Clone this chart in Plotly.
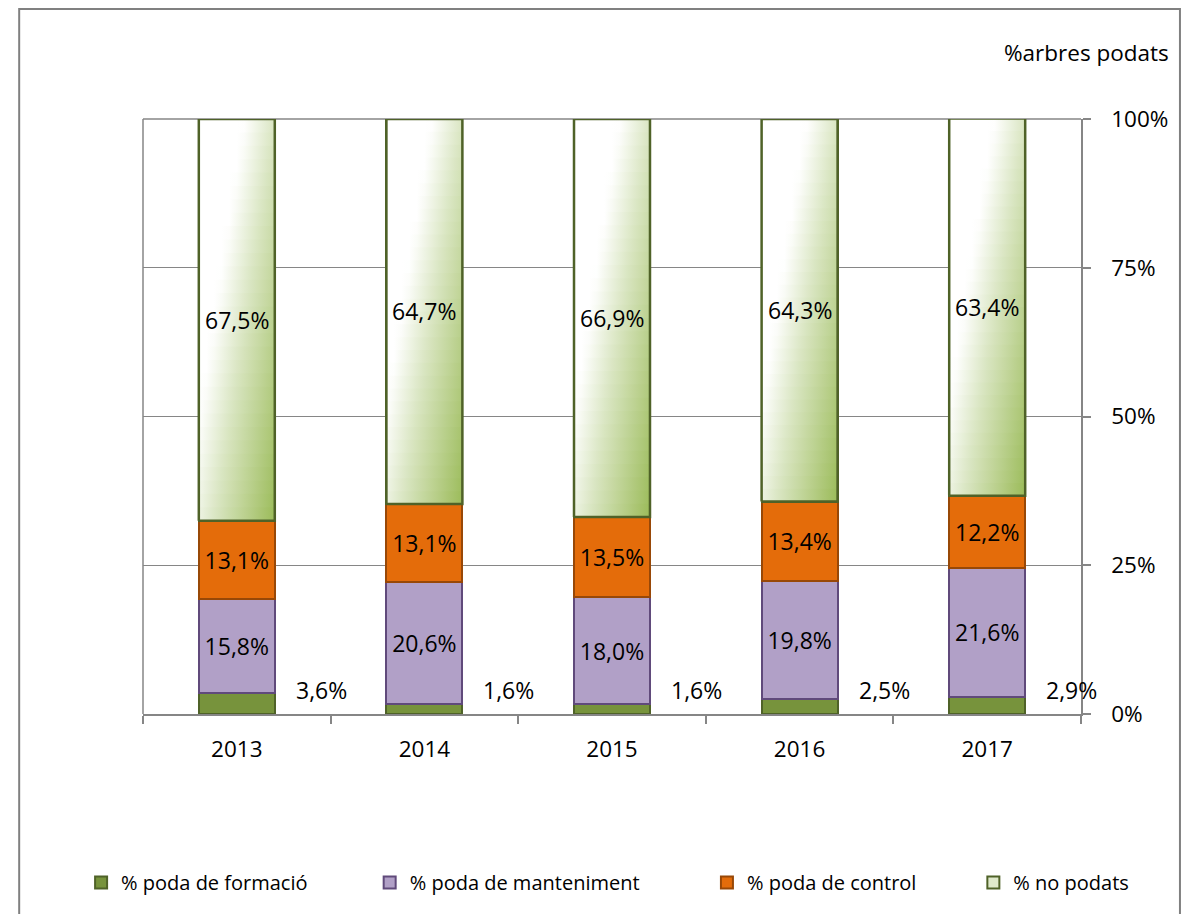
import plotly.graph_objects as go

years = ["2013", "2014", "2015", "2016", "2017"]
formacio = [3.6, 1.6, 1.6, 2.5, 2.9]
manteniment = [15.8, 20.6, 18.0, 19.8, 21.6]
control = [13.1, 13.1, 13.5, 13.4, 12.2]
no_podats = [67.5, 64.7, 66.9, 64.3, 63.4]
y_ticks = [0, 25, 50, 75, 100]
y_ticklabels = ["0%", "25%", "50%", "75%", "100%"]

FONT = "Open Sans"
W = 0.405
xs = list(range(len(years)))
NB = "\u00a0"  # padding so legend items spread like the original

# diagonal white -> green gradient, approximated by horizontal-gradient bands
GRAD_STOPS = [(0.0, (255, 255, 255)), (0.6, (255, 255, 255)),
              (1.0, (218, 230, 195)), (1.8, (155, 187, 89))]
N_BANDS = 30
DIAG = 0.8


def grad_color(s):
    for (s0, c0), (s1, c1) in zip(GRAD_STOPS, GRAD_STOPS[1:]):
        if s <= s1:
            t = max(0.0, (s - s0) / (s1 - s0))
            return "rgb(%d,%d,%d)" % tuple(round(a + (b - a) * t) for a, b in zip(c0, c1))
    return "rgb(%d,%d,%d)" % GRAD_STOPS[-1][1]


def band_scale(v):
    off = DIAG * (1 - v)
    return [[u / 10, grad_color(u / 10 + off)] for u in range(11)]


def lbl(v):
    return f"{v:.1f}".replace(".", ",") + "%"


lblfont = dict(color="black", size=23, family=FONT)

fig = go.Figure()

fig.add_trace(go.Bar(x=xs, y=formacio, width=W, name="% poda de formació" + NB * 11,
                     marker=dict(color="#77933C", line=dict(color="#4F6228", width=2))))
fig.add_trace(go.Bar(x=xs, y=manteniment, width=W, name="% poda de manteniment" + NB * 12,
                     marker=dict(color="#B1A0C7", line=dict(color="#604A7B", width=2)),
                     text=[lbl(v) for v in manteniment], textposition="inside",
                     insidetextanchor="middle", textangle=0, textfont=lblfont))
fig.add_trace(go.Bar(x=xs, y=control, width=W, name="% poda de control" + NB * 10,
                     marker=dict(color="#E46C0A", line=dict(color="#984807", width=2)),
                     text=[lbl(v) for v in control], textposition="inside",
                     insidetextanchor="middle", textangle=0, textfont=lblfont))
# legend entry + stacking for "no podats" (visible fill comes from gradient bands below)
fig.add_trace(go.Bar(x=xs, y=no_podats, width=W, name="% no podats",
                     marker=dict(color="#dfe9cb", line=dict(color="#4F6228", width=2))))

for i in xs:
    base = formacio[i] + manteniment[i] + control[i]
    val = no_podats[i]
    x0, x1 = i - W / 2, i + W / 2
    for k in range(N_BANDS):
        b0 = base + val * k / N_BANDS
        b1 = min(base + val * (k + 1) / N_BANDS + 0.15, base + val)
        fig.add_trace(go.Scatter(
            x=[x0, x1, x1, x0, x0], y=[b0, b0, b1, b1, b0],
            mode="none", fill="toself",
            fillgradient=dict(type="horizontal", colorscale=band_scale((k + 0.5) / N_BANDS)),
            showlegend=False, hoverinfo="skip"))
    fig.add_trace(go.Scatter(
        x=[x0, x1, x1, x0, x0], y=[base, base, base + val, base + val, base],
        mode="lines", line=dict(color="#4F6228", width=2.5),
        showlegend=False, hoverinfo="skip"))
    fig.add_annotation(x=i, y=base + val / 2, xref="x", yref="y",
                       text=lbl(val), showarrow=False, font=lblfont)

# outside labels for the small "formació" segments
for i in xs:
    fig.add_annotation(x=i + 0.45, y=4.0, xref="x", yref="y", text=lbl(formacio[i]),
                       showarrow=False, font=lblfont)

fig.add_annotation(x=1.096, y=1.112, xref="paper", yref="paper", text="%arbres podats",
                   xanchor="right", yanchor="middle", showarrow=False,
                   font=dict(size=22.5, family=FONT, color="black"))

# outer frame, plot-area left edge and top gridline
fig.add_shape(type="rect", xref="paper", yref="paper",
              x0=-0.132, x1=1.1055, y0=-0.36, y1=1.185,
              line=dict(color="#808080", width=2), layer="below")
fig.add_shape(type="line", xref="paper", yref="paper", x0=0, x1=0, y0=0, y1=1,
              line=dict(color="#868686", width=1.5), layer="below")
fig.add_shape(type="line", xref="paper", yref="paper", x0=0, x1=1, y0=1, y1=1,
              line=dict(color="#868686", width=1.5), layer="below")

fig.update_xaxes(range=[-0.5, 4.5], tickvals=xs, ticktext=years, ticks="",
                 showline=True, linecolor="#868686", linewidth=1.5,
                 showgrid=False, zeroline=False,
                 minor=dict(tick0=-0.5, dtick=1, ticks="outside", ticklen=8,
                            tickcolor="#868686", tickwidth=1.5, showgrid=False),
                 ticklabelstandoff=14,
                 tickfont=dict(size=22.5, family=FONT, color="black"))
fig.update_yaxes(range=[0, 100], side="right", tickvals=y_ticks, ticktext=y_ticklabels,
                 ticks="outside", ticklen=8, tickcolor="#868686", tickwidth=1.5,
                 showline=True, linecolor="#868686", linewidth=1.5,
                 showgrid=True, gridcolor="#868686", gridwidth=1.2, zeroline=False,
                 ticklabelstandoff=16,
                 tickfont=dict(size=22.5, family=FONT, color="black"))

fig.update_layout(
    width=1173, height=906,
    margin=dict(l=135, r=100, t=111, b=198),
    barmode="stack", bargap=0.6,
    plot_bgcolor="white", paper_bgcolor="white",
    font=dict(family=FONT, color="black"),
    showlegend=True,
    legend=dict(orientation="h", x=-0.066, xanchor="left", y=-0.283, yanchor="middle",
                font=dict(size=20, family=FONT, color="black"), traceorder="normal"),
)

fig.write_html("out.html")
